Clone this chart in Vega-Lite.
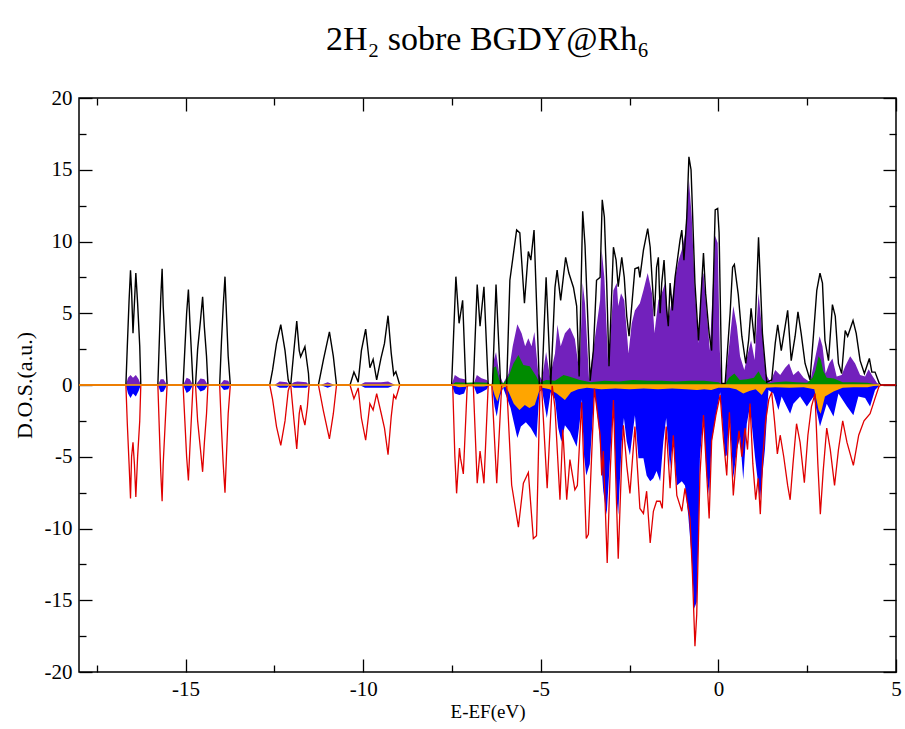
{
"$schema":"https://vega.github.io/schema/vega-lite/v6.json",
"width":817,"height":574,
"autosize":{"type":"none"},
"padding":{"left":79,"top":98,"right":9,"bottom":57},
"background":"white",
"title":{"text":"2H₂ sobre BGDY@Rh₆","font":"Liberation Serif","fontSize":34,"fontWeight":"normal","color":"black","anchor":"middle","offset":30},
"config":{"view":{"stroke":"black","strokeWidth":1.5},"axis":{"domain":false,"grid":false,"tickColor":"black","tickWidth":1.3,"labelColor":"black","labelFont":"Liberation Serif","labelFontSize":21,"titleFont":"Liberation Serif","titleFontWeight":"normal","titleColor":"black"}},
"datasets":{
"up":[{"e":-18,"v":0},{"e":-16.68,"v":0},{"e":-16.64,"v":2.7},{"e":-16.59,"v":5.9},{"e":-16.55,"v":8.0},{"e":-16.52,"v":6.6},{"e":-16.48,"v":3.6},{"e":-16.44,"v":5.7},{"e":-16.40,"v":7.8},{"e":-16.35,"v":5.7},{"e":-16.29,"v":2.7},{"e":-16.26,"v":0},
{"e":-15.78,"v":0},{"e":-15.74,"v":3.0},{"e":-15.70,"v":6.0},{"e":-15.66,"v":8.1},{"e":-15.63,"v":5.5},{"e":-15.58,"v":3.0},{"e":-15.52,"v":0},
{"e":-15.07,"v":0},{"e":-15.02,"v":2.5},{"e":-14.97,"v":5.0},{"e":-14.92,"v":6.65},{"e":-14.88,"v":4.5},{"e":-14.83,"v":2.0},{"e":-14.79,"v":0},
{"e":-14.72,"v":0},{"e":-14.66,"v":2.5},{"e":-14.58,"v":4.5},{"e":-14.52,"v":6.15},{"e":-14.47,"v":4.0},{"e":-14.41,"v":2.0},{"e":-14.37,"v":0},
{"e":-14.04,"v":0},{"e":-13.99,"v":3.0},{"e":-13.94,"v":5.5},{"e":-13.89,"v":7.55},{"e":-13.85,"v":5.0},{"e":-13.80,"v":2.0},{"e":-13.74,"v":0},
{"e":-12.63,"v":0},{"e":-12.55,"v":1.05},{"e":-12.44,"v":2.9},{"e":-12.32,"v":4.2},{"e":-12.20,"v":2.4},{"e":-12.11,"v":0.35},{"e":-12.06,"v":0},
{"e":-12.04,"v":0},{"e":-11.95,"v":2.4},{"e":-11.87,"v":4.45},{"e":-11.80,"v":2.4},{"e":-11.76,"v":1.97},{"e":-11.64,"v":2.67},{"e":-11.54,"v":0.8},{"e":-11.52,"v":0},
{"e":-11.26,"v":0},{"e":-11.12,"v":1.75},{"e":-10.95,"v":3.7},{"e":-10.84,"v":2.0},{"e":-10.75,"v":0},
{"e":-10.37,"v":0},{"e":-10.26,"v":0.9},{"e":-10.14,"v":0.2},{"e":-10.05,"v":2.4},{"e":-9.93,"v":3.9},{"e":-9.81,"v":1.2},{"e":-9.72,"v":1.79},{"e":-9.62,"v":0.35},{"e":-9.50,"v":1.86},{"e":-9.40,"v":2.9},{"e":-9.30,"v":4.83},{"e":-9.21,"v":2.2},{"e":-9.14,"v":0.7},{"e":-9.08,"v":0.93},{"e":-8.97,"v":0},
{"e":-7.51,"v":0},{"e":-7.39,"v":7.55},{"e":-7.30,"v":4.3},{"e":-7.20,"v":5.9},{"e":-7.11,"v":0},
{"e":-6.90,"v":0},{"e":-6.79,"v":7.0},{"e":-6.71,"v":4.1},{"e":-6.60,"v":6.85},{"e":-6.48,"v":0},
{"e":-6.36,"v":0},{"e":-6.26,"v":7.0},{"e":-6.13,"v":0},
{"e":-5.96,"v":0},{"e":-5.87,"v":7.3},{"e":-5.68,"v":10.8},{"e":-5.59,"v":10.6},{"e":-5.46,"v":5.7},{"e":-5.35,"v":9.3},{"e":-5.28,"v":8.7},{"e":-5.19,"v":10.8},{"e":-5.04,"v":0},
{"e":-4.97,"v":0},{"e":-4.85,"v":7.5},{"e":-4.72,"v":0},
{"e":-4.60,"v":6.8},{"e":-4.54,"v":8.0},{"e":-4.44,"v":5.9},{"e":-4.30,"v":8.9},{"e":-4.21,"v":7.8},{"e":-4.08,"v":6.8},{"e":-3.99,"v":5.5},{"e":-3.92,"v":0.6},{"e":-3.82,"v":12.1},{"e":-3.755,"v":9.75},{"e":-3.61,"v":0.3},{"e":-3.52,"v":2.4},{"e":-3.43,"v":7.3},{"e":-3.33,"v":7.5},{"e":-3.27,"v":12.9},{"e":-3.21,"v":11.7},{"e":-3.145,"v":7.1},{"e":-3.08,"v":1.3},{"e":-2.955,"v":9.6},{"e":-2.88,"v":8.7},{"e":-2.82,"v":6.85},{"e":-2.72,"v":8.9},{"e":-2.65,"v":7.5},{"e":-2.58,"v":4.8},{"e":-2.515,"v":3.4},{"e":-2.44,"v":5.5},{"e":-2.35,"v":8.1},{"e":-2.25,"v":8.2},{"e":-2.21,"v":7.5},{"e":-2.11,"v":9.4},{"e":-1.99,"v":10.9},{"e":-1.92,"v":9.6},{"e":-1.86,"v":7.1},{"e":-1.80,"v":4.8},{"e":-1.74,"v":8.2},{"e":-1.69,"v":8.9},{"e":-1.64,"v":5.0},{"e":-1.595,"v":7.1},{"e":-1.53,"v":8.7},{"e":-1.455,"v":5.2},{"e":-1.41,"v":4.1},{"e":-1.36,"v":7.1},{"e":-1.295,"v":5.2},{"e":-1.22,"v":7.5},{"e":-1.155,"v":8.7},{"e":-1.08,"v":10.1},{"e":-1.03,"v":10.8},{"e":-0.97,"v":8.7},{"e":-0.89,"v":11.7},{"e":-0.83,"v":15.9},{"e":-0.77,"v":15.0},{"e":-0.74,"v":12.9},{"e":-0.66,"v":7.1},{"e":-0.56,"v":3.1},{"e":-0.49,"v":6.2},{"e":-0.42,"v":9.2},{"e":-0.36,"v":6.4},{"e":-0.26,"v":3.6},{"e":-0.19,"v":2.4},{"e":-0.09,"v":12.2},{"e":-0.02,"v":12.3},{"e":0.02,"v":10.6},{"e":0.095,"v":0.1},{"e":0.19,"v":0.1},{"e":0.33,"v":5.0},{"e":0.40,"v":8.2},{"e":0.45,"v":8.4},{"e":0.56,"v":6.3},{"e":0.66,"v":3.4},{"e":0.77,"v":1.5},{"e":0.85,"v":3.1},{"e":0.92,"v":5.35},{"e":1.02,"v":2.9},{"e":1.13,"v":10.3},{"e":1.24,"v":3.6},{"e":1.36,"v":0.2},{"e":1.50,"v":0.35},{"e":1.60,"v":2.9},{"e":1.67,"v":4.2},{"e":1.77,"v":2.4},{"e":1.88,"v":4.1},{"e":1.95,"v":5.2},{"e":2.05,"v":1.7},{"e":2.16,"v":3.4},{"e":2.24,"v":5.1},{"e":2.33,"v":3.6},{"e":2.44,"v":1.5},{"e":2.58,"v":0.35},{"e":2.68,"v":3.6},{"e":2.77,"v":6.6},{"e":2.86,"v":7.8},{"e":2.93,"v":7.1},{"e":3.0,"v":3.1},{"e":3.10,"v":1.7},{"e":3.21,"v":5.6},{"e":3.29,"v":4.8},{"e":3.38,"v":1.5},{"e":3.47,"v":0.8},{"e":3.57,"v":3.8},{"e":3.64,"v":3.4},{"e":3.79,"v":4.5},{"e":3.88,"v":3.6},{"e":3.99,"v":1.7},{"e":4.11,"v":0.8},{"e":4.25,"v":1.85},{"e":4.32,"v":0.9},{"e":4.41,"v":0.9},{"e":4.53,"v":0.1},{"e":4.58,"v":0},{"e":5,"v":0}],
"down":[{"e":-18,"v":0},{"e":-16.68,"v":0},{"e":-16.64,"v":-2.7},{"e":-16.59,"v":-5.5},{"e":-16.55,"v":-7.9},{"e":-16.52,"v":-5.0},{"e":-16.48,"v":-4.0},{"e":-16.44,"v":-5.5},{"e":-16.40,"v":-7.8},{"e":-16.35,"v":-5.0},{"e":-16.29,"v":-2.5},{"e":-16.26,"v":0},
{"e":-15.78,"v":0},{"e":-15.74,"v":-3.0},{"e":-15.70,"v":-6.0},{"e":-15.66,"v":-8.1},{"e":-15.63,"v":-5.5},{"e":-15.58,"v":-3.0},{"e":-15.52,"v":0},
{"e":-15.07,"v":0},{"e":-15.02,"v":-2.5},{"e":-14.97,"v":-5.0},{"e":-14.92,"v":-6.65},{"e":-14.88,"v":-4.5},{"e":-14.83,"v":-2.0},{"e":-14.79,"v":0},
{"e":-14.72,"v":0},{"e":-14.66,"v":-2.5},{"e":-14.58,"v":-4.5},{"e":-14.52,"v":-6.05},{"e":-14.47,"v":-4.0},{"e":-14.41,"v":-2.0},{"e":-14.37,"v":0},
{"e":-14.04,"v":0},{"e":-13.99,"v":-3.0},{"e":-13.94,"v":-5.5},{"e":-13.89,"v":-7.5},{"e":-13.85,"v":-5.0},{"e":-13.80,"v":-2.0},{"e":-13.74,"v":0},
{"e":-12.63,"v":0},{"e":-12.55,"v":-1.0},{"e":-12.44,"v":-2.9},{"e":-12.32,"v":-4.2},{"e":-12.20,"v":-2.5},{"e":-12.11,"v":-0.4},{"e":-12.06,"v":0},
{"e":-12.04,"v":0},{"e":-11.95,"v":-2.4},{"e":-11.87,"v":-4.45},{"e":-11.80,"v":-2.0},{"e":-11.76,"v":-1.4},{"e":-11.70,"v":-2.2},{"e":-11.64,"v":-2.8},{"e":-11.57,"v":-1.5},{"e":-11.52,"v":0},
{"e":-11.26,"v":0},{"e":-11.12,"v":-1.8},{"e":-10.95,"v":-3.75},{"e":-10.84,"v":-2.0},{"e":-10.75,"v":0},
{"e":-10.37,"v":0},{"e":-10.26,"v":-0.95},{"e":-10.14,"v":-0.2},{"e":-10.05,"v":-2.3},{"e":-9.93,"v":-3.85},{"e":-9.81,"v":-1.3},{"e":-9.72,"v":-1.75},{"e":-9.62,"v":-0.6},{"e":-9.50,"v":-1.9},{"e":-9.40,"v":-3.0},{"e":-9.30,"v":-4.85},{"e":-9.21,"v":-2.2},{"e":-9.14,"v":-0.7},{"e":-9.08,"v":-0.95},{"e":-8.97,"v":0},
{"e":-7.48,"v":0},{"e":-7.42,"v":-4.9},{"e":-7.37,"v":-7.55},{"e":-7.29,"v":-4.4},{"e":-7.26,"v":-5.1},{"e":-7.18,"v":-6.2},{"e":-7.07,"v":0},
{"e":-6.90,"v":0},{"e":-6.79,"v":-6.85},{"e":-6.71,"v":-4.6},{"e":-6.60,"v":-6.85},{"e":-6.48,"v":0},
{"e":-6.38,"v":0},{"e":-6.24,"v":-6.85},{"e":-6.10,"v":0},
{"e":-5.96,"v":0},{"e":-5.82,"v":-6.97},{"e":-5.63,"v":-9.9},{"e":-5.49,"v":-6.85},{"e":-5.35,"v":-6.1},{"e":-5.21,"v":-10.7},{"e":-5.12,"v":-10.5},{"e":-5.02,"v":0},
{"e":-4.98,"v":0},{"e":-4.82,"v":-7.2},{"e":-4.68,"v":0},
{"e":-4.60,"v":-1.6},{"e":-4.46,"v":-8.0},{"e":-4.38,"v":-3.1},{"e":-4.27,"v":-8.0},{"e":-4.18,"v":-5.2},{"e":-4.04,"v":-7.3},{"e":-3.97,"v":-7.0},{"e":-3.85,"v":-1.2},{"e":-3.72,"v":-10.7},{"e":-3.66,"v":-10.4},{"e":-3.49,"v":-0.25},{"e":-3.33,"v":-3.5},{"e":-3.285,"v":-6.3},{"e":-3.24,"v":-4.6},{"e":-3.13,"v":-12.4},{"e":-3.05,"v":-6.3},{"e":-2.955,"v":-1.05},{"e":-2.82,"v":-12.1},{"e":-2.72,"v":-5.1},{"e":-2.675,"v":-2.8},{"e":-2.58,"v":-5.6},{"e":-2.49,"v":-7.55},{"e":-2.35,"v":-2.9},{"e":-2.21,"v":-8.6},{"e":-2.11,"v":-8.95},{"e":-2.02,"v":-7.4},{"e":-1.92,"v":-11.0},{"e":-1.83,"v":-8.8},{"e":-1.74,"v":-8.1},{"e":-1.64,"v":-8.1},{"e":-1.58,"v":-8.6},{"e":-1.47,"v":-2.9},{"e":-1.36,"v":-7.2},{"e":-1.27,"v":-3.5},{"e":-1.17,"v":-7.7},{"e":-1.03,"v":-8.8},{"e":-0.94,"v":-7.2},{"e":-0.80,"v":-9.3},{"e":-0.73,"v":-13.2},{"e":-0.66,"v":-18.2},{"e":-0.61,"v":-16.0},{"e":-0.52,"v":-6.3},{"e":-0.42,"v":-2.1},{"e":-0.26,"v":-9.3},{"e":-0.19,"v":-3.9},{"e":-0.07,"v":-2.1},{"e":0.05,"v":-0.7},{"e":0.14,"v":-3.7},{"e":0.235,"v":-6.3},{"e":0.31,"v":-1.9},{"e":0.42,"v":-7.7},{"e":0.52,"v":-4.5},{"e":0.58,"v":-3.2},{"e":0.66,"v":-5.0},{"e":0.75,"v":-3.0},{"e":0.82,"v":-4.5},{"e":0.89,"v":-1.3},{"e":0.97,"v":-5.5},{"e":1.05,"v":-8.0},{"e":1.12,"v":-6.5},{"e":1.18,"v":-9.0},{"e":1.25,"v":-5.0},{"e":1.33,"v":-2.5},{"e":1.42,"v":-1.0},{"e":1.50,"v":-0.5},{"e":1.58,"v":-2.5},{"e":1.66,"v":-4.8},{"e":1.74,"v":-3.5},{"e":1.84,"v":-5.0},{"e":1.95,"v":-7.0},{"e":2.02,"v":-8.0},{"e":2.1,"v":-5.5},{"e":2.2,"v":-2.7},{"e":2.3,"v":-4.0},{"e":2.42,"v":-6.8},{"e":2.52,"v":-3.5},{"e":2.62,"v":-1.5},{"e":2.72,"v":-0.6},{"e":2.8,"v":-5.5},{"e":2.87,"v":-9.0},{"e":2.95,"v":-6.0},{"e":3.05,"v":-3.0},{"e":3.15,"v":-4.5},{"e":3.27,"v":-7.0},{"e":3.38,"v":-4.5},{"e":3.5,"v":-2.5},{"e":3.62,"v":-4.0},{"e":3.8,"v":-5.6},{"e":3.95,"v":-3.5},{"e":4.1,"v":-2.5},{"e":4.27,"v":-2.0},{"e":4.4,"v":-1.0},{"e":4.52,"v":-0.1},{"e":4.58,"v":0},{"e":5,"v":0}],
"pup":[{"e":-18,"v":0},{"e":-16.68,"v":0},{"e":-16.62,"v":0.5},{"e":-16.55,"v":0.7},{"e":-16.48,"v":0.5},{"e":-16.40,"v":0.7},{"e":-16.32,"v":0.4},{"e":-16.26,"v":0},{"e":-15.78,"v":0},{"e":-15.70,"v":0.4},{"e":-15.62,"v":0.4},{"e":-15.52,"v":0},{"e":-15.07,"v":0},{"e":-14.97,"v":0.5},{"e":-14.88,"v":0.4},{"e":-14.79,"v":0},{"e":-14.72,"v":0},{"e":-14.58,"v":0.45},{"e":-14.47,"v":0.4},{"e":-14.37,"v":0},{"e":-14.04,"v":0},{"e":-13.92,"v":0.35},{"e":-13.80,"v":0.3},{"e":-13.74,"v":0},{"e":-12.5,"v":0},{"e":-12.35,"v":0.25},{"e":-12.15,"v":0.2},{"e":-12.06,"v":0},{"e":-11.95,"v":0.2},{"e":-11.85,"v":0.25},{"e":-11.6,"v":0.2},{"e":-11.52,"v":0},{"e":-11.2,"v":0},{"e":-11.0,"v":0.2},{"e":-10.8,"v":0},{"e":-10.1,"v":0},{"e":-9.95,"v":0.2},{"e":-9.7,"v":0.2},{"e":-9.5,"v":0.2},{"e":-9.3,"v":0.25},{"e":-9.1,"v":0},
{"e":-7.51,"v":0},{"e":-7.42,"v":0.7},{"e":-7.28,"v":0.47},{"e":-7.14,"v":0.4},{"e":-7.07,"v":0},{"e":-6.90,"v":0},{"e":-6.80,"v":0.7},{"e":-6.67,"v":0.47},{"e":-6.52,"v":0.35},{"e":-6.45,"v":0},{"e":-6.38,"v":0},{"e":-6.32,"v":1.74},{"e":-6.26,"v":2.3},{"e":-6.17,"v":0.81},{"e":-6.06,"v":0.1},{"e":-5.91,"v":0.81},{"e":-5.79,"v":2.7},{"e":-5.66,"v":4.23},{"e":-5.54,"v":3.6},{"e":-5.44,"v":2.7},{"e":-5.35,"v":3.25},{"e":-5.26,"v":2.7},{"e":-5.18,"v":3.7},{"e":-5.07,"v":0.8},{"e":-4.97,"v":0.35},{"e":-4.85,"v":2.3},{"e":-4.74,"v":0.58},{"e":-4.60,"v":2.2},{"e":-4.53,"v":4.2},{"e":-4.44,"v":2.7},{"e":-4.32,"v":3.6},{"e":-4.18,"v":4.0},{"e":-4.04,"v":3.2},{"e":-3.91,"v":0.8},{"e":-3.82,"v":7.1},{"e":-3.755,"v":5.7},{"e":-3.64,"v":0.35},{"e":-3.47,"v":3.4},{"e":-3.33,"v":5.9},{"e":-3.285,"v":9.4},{"e":-3.21,"v":7.5},{"e":-3.10,"v":1.3},{"e":-2.955,"v":6.6},{"e":-2.86,"v":7.1},{"e":-2.82,"v":5.5},{"e":-2.74,"v":6.4},{"e":-2.65,"v":5.9},{"e":-2.53,"v":2.2},{"e":-2.44,"v":4.3},{"e":-2.35,"v":5.2},{"e":-2.21,"v":5.7},{"e":-2.11,"v":6.6},{"e":-1.99,"v":7.8},{"e":-1.87,"v":6.4},{"e":-1.80,"v":3.6},{"e":-1.69,"v":5.9},{"e":-1.595,"v":6.4},{"e":-1.50,"v":7.1},{"e":-1.41,"v":4.5},{"e":-1.295,"v":6.1},{"e":-1.22,"v":7.5},{"e":-1.12,"v":8.7},{"e":-1.03,"v":9.4},{"e":-0.93,"v":10.6},{"e":-0.83,"v":14.3},{"e":-0.75,"v":11.7},{"e":-0.66,"v":6.6},{"e":-0.56,"v":2.9},{"e":-0.47,"v":7.5},{"e":-0.42,"v":7.8},{"e":-0.33,"v":5.2},{"e":-0.24,"v":2.4},{"e":-0.09,"v":10.4},{"e":-0.02,"v":9.9},{"e":0.04,"v":2.4},{"e":0.095,"v":0.1},{"e":0.19,"v":0.1},{"e":0.33,"v":3.4},{"e":0.42,"v":5.5},{"e":0.52,"v":4.1},{"e":0.61,"v":2.0},{"e":0.73,"v":1.05},{"e":0.83,"v":2.2},{"e":0.92,"v":3.1},{"e":1.02,"v":1.75},{"e":1.13,"v":6.4},{"e":1.22,"v":4.1},{"e":1.33,"v":0.8},{"e":1.46,"v":0.2},{"e":1.60,"v":1.05},{"e":1.74,"v":0.7},{"e":1.88,"v":1.2},{"e":1.99,"v":1.5},{"e":2.11,"v":0.7},{"e":2.25,"v":1.0},{"e":2.40,"v":0.5},{"e":2.58,"v":0.2},{"e":2.71,"v":1.7},{"e":2.85,"v":3.4},{"e":2.93,"v":2.7},{"e":3.02,"v":0.8},{"e":3.12,"v":1.5},{"e":3.21,"v":1.85},{"e":3.33,"v":0.6},{"e":3.47,"v":0.7},{"e":3.57,"v":1.3},{"e":3.71,"v":2.0},{"e":3.85,"v":1.5},{"e":3.99,"v":0.7},{"e":4.13,"v":0.6},{"e":4.23,"v":1.1},{"e":4.32,"v":0.7},{"e":4.46,"v":0.15},{"e":4.55,"v":0}],
"gup":[{"e":-7.51,"v":0},{"e":-7.4,"v":0.2},{"e":-7.1,"v":0.15},{"e":-6.8,"v":0.2},{"e":-6.5,"v":0.15},{"e":-6.38,"v":0},{"e":-6.33,"v":1.2},{"e":-6.26,"v":1.3},{"e":-6.17,"v":0.35},{"e":-6.06,"v":0.1},{"e":-5.91,"v":0.58},{"e":-5.77,"v":1.5},{"e":-5.63,"v":2.09},{"e":-5.49,"v":1.4},{"e":-5.31,"v":1.3},{"e":-5.12,"v":0.58},{"e":-5.04,"v":0.15},{"e":-4.85,"v":0.35},{"e":-4.6,"v":0.3},{"e":-4.36,"v":0.7},{"e":-4.18,"v":0.58},{"e":-3.9,"v":0.35},{"e":-3.6,"v":0.2},{"e":-3.2,"v":0.3},{"e":-2.8,"v":0.25},{"e":-2.4,"v":0.35},{"e":-2.0,"v":0.3},{"e":-1.6,"v":0.3},{"e":-1.2,"v":0.25},{"e":-0.8,"v":0.3},{"e":-0.4,"v":0.3},{"e":0.0,"v":0.2},{"e":0.1,"v":0.05},{"e":0.2,"v":0.1},{"e":0.3,"v":0.5},{"e":0.45,"v":0.8},{"e":0.6,"v":0.35},{"e":0.8,"v":0.4},{"e":1.0,"v":0.5},{"e":1.13,"v":0.95},{"e":1.25,"v":0.4},{"e":1.4,"v":0.1},{"e":1.6,"v":0.2},{"e":1.9,"v":0.25},{"e":2.2,"v":0.2},{"e":2.5,"v":0.15},{"e":2.65,"v":0.5},{"e":2.73,"v":1.0},{"e":2.82,"v":2.0},{"e":2.88,"v":1.8},{"e":2.95,"v":1.0},{"e":3.05,"v":0.5},{"e":3.25,"v":0.45},{"e":3.5,"v":0.2},{"e":3.8,"v":0.2},{"e":4.2,"v":0.15},{"e":4.5,"v":0}],
"bdn":[{"e":-18,"v":0},{"e":-16.68,"v":0},{"e":-16.62,"v":-0.6},{"e":-16.55,"v":-0.9},{"e":-16.48,"v":-0.6},{"e":-16.40,"v":-0.8},{"e":-16.32,"v":-0.4},{"e":-16.26,"v":0},{"e":-15.78,"v":0},{"e":-15.70,"v":-0.5},{"e":-15.62,"v":-0.45},{"e":-15.52,"v":0},{"e":-15.07,"v":0},{"e":-14.97,"v":-0.55},{"e":-14.88,"v":-0.4},{"e":-14.79,"v":0},{"e":-14.72,"v":0},{"e":-14.58,"v":-0.45},{"e":-14.47,"v":-0.35},{"e":-14.37,"v":0},{"e":-14.04,"v":0},{"e":-13.92,"v":-0.35},{"e":-13.80,"v":-0.3},{"e":-13.74,"v":0},{"e":-12.5,"v":0},{"e":-12.35,"v":-0.2},{"e":-12.15,"v":-0.2},{"e":-12.06,"v":0},{"e":-11.95,"v":-0.2},{"e":-11.85,"v":-0.2},{"e":-11.6,"v":-0.2},{"e":-11.52,"v":0},{"e":-11.2,"v":0},{"e":-11.0,"v":-0.2},{"e":-10.8,"v":0},{"e":-10.1,"v":0},{"e":-9.95,"v":-0.2},{"e":-9.7,"v":-0.2},{"e":-9.5,"v":-0.2},{"e":-9.3,"v":-0.2},{"e":-9.1,"v":0},
{"e":-7.51,"v":0},{"e":-7.42,"v":-0.6},{"e":-7.29,"v":-0.7},{"e":-7.16,"v":-0.6},{"e":-7.07,"v":0},{"e":-6.90,"v":0},{"e":-6.80,"v":-0.65},{"e":-6.67,"v":-0.5},{"e":-6.52,"v":-0.3},{"e":-6.45,"v":0},{"e":-6.38,"v":0},{"e":-6.30,"v":-1.5},{"e":-6.24,"v":-2.2},{"e":-6.15,"v":-0.8},{"e":-6.06,"v":-0.2},{"e":-5.85,"v":-1.6},{"e":-5.66,"v":-3.7},{"e":-5.56,"v":-2.9},{"e":-5.42,"v":-2.6},{"e":-5.28,"v":-3.0},{"e":-5.12,"v":-3.7},{"e":-5.04,"v":-0.5},{"e":-4.97,"v":-0.3},{"e":-4.83,"v":-2.3},{"e":-4.72,"v":-0.5},{"e":-4.60,"v":-1.0},{"e":-4.51,"v":-3.0},{"e":-4.42,"v":-3.95},{"e":-4.32,"v":-2.8},{"e":-4.18,"v":-3.25},{"e":-3.99,"v":-4.3},{"e":-3.90,"v":-2.5},{"e":-3.85,"v":-1.0},{"e":-3.78,"v":-5.0},{"e":-3.72,"v":-6.3},{"e":-3.62,"v":-5.5},{"e":-3.49,"v":-0.35},{"e":-3.37,"v":-2.8},{"e":-3.24,"v":-7.4},{"e":-3.145,"v":-9.05},{"e":-3.05,"v":-5.1},{"e":-2.955,"v":-1.2},{"e":-2.86,"v":-8.1},{"e":-2.82,"v":-9.05},{"e":-2.72,"v":-3.95},{"e":-2.66,"v":-2.3},{"e":-2.58,"v":-3.95},{"e":-2.49,"v":-4.9},{"e":-2.35,"v":-2.1},{"e":-2.25,"v":-5.1},{"e":-2.11,"v":-5.1},{"e":-2.02,"v":-6.3},{"e":-1.92,"v":-6.7},{"e":-1.83,"v":-6.5},{"e":-1.74,"v":-6.0},{"e":-1.64,"v":-6.7},{"e":-1.55,"v":-3.95},{"e":-1.47,"v":-2.3},{"e":-1.36,"v":-5.8},{"e":-1.27,"v":-3.7},{"e":-1.17,"v":-7.0},{"e":-1.03,"v":-6.7},{"e":-0.94,"v":-7.0},{"e":-0.85,"v":-9.05},{"e":-0.75,"v":-12.1},{"e":-0.68,"v":-15.6},{"e":-0.61,"v":-15.1},{"e":-0.56,"v":-10.45},{"e":-0.52,"v":-5.1},{"e":-0.42,"v":-2.1},{"e":-0.33,"v":-6.3},{"e":-0.26,"v":-7.7},{"e":-0.19,"v":-3.95},{"e":-0.07,"v":-2.1},{"e":0.05,"v":-0.5},{"e":0.14,"v":-3.5},{"e":0.19,"v":-5.0},{"e":0.235,"v":-4.9},{"e":0.31,"v":-1.9},{"e":0.42,"v":-6.5},{"e":0.52,"v":-4.5},{"e":0.61,"v":-3.6},{"e":0.70,"v":-6.6},{"e":0.80,"v":-2.7},{"e":0.89,"v":-1.5},{"e":1.03,"v":-5.0},{"e":1.17,"v":-8.0},{"e":1.31,"v":-4.5},{"e":1.41,"v":-0.35},{"e":1.55,"v":-0.6},{"e":1.69,"v":-1.75},{"e":1.78,"v":-0.8},{"e":2.02,"v":-2.0},{"e":2.11,"v":-1.3},{"e":2.3,"v":-0.8},{"e":2.49,"v":-1.5},{"e":2.68,"v":-0.8},{"e":2.86,"v":-2.9},{"e":3.05,"v":-1.3},{"e":3.24,"v":-2.2},{"e":3.38,"v":-0.6},{"e":3.62,"v":-1.5},{"e":3.8,"v":-2.1},{"e":3.94,"v":-0.8},{"e":4.13,"v":-0.9},{"e":4.27,"v":-1.5},{"e":4.41,"v":-0.35},{"e":4.55,"v":0}],
"odn":[{"e":-7.51,"v":0},{"e":-7.3,"v":-0.15},{"e":-7.0,"v":-0.1},{"e":-6.6,"v":-0.1},{"e":-6.38,"v":0},{"e":-6.30,"v":-0.7},{"e":-6.22,"v":-1.15},{"e":-6.12,"v":-0.3},{"e":-6.0,"v":-0.1},{"e":-5.91,"v":-0.45},{"e":-5.76,"v":-1.3},{"e":-5.60,"v":-1.75},{"e":-5.45,"v":-1.4},{"e":-5.32,"v":-1.6},{"e":-5.17,"v":-1.4},{"e":-5.05,"v":-0.45},{"e":-4.95,"v":-0.2},{"e":-4.75,"v":-0.3},{"e":-4.55,"v":-0.6},{"e":-4.32,"v":-1.05},{"e":-4.15,"v":-0.5},{"e":-3.95,"v":-0.3},{"e":-3.7,"v":-0.2},{"e":-3.3,"v":-0.3},{"e":-2.9,"v":-0.25},{"e":-2.5,"v":-0.3},{"e":-2.1,"v":-0.25},{"e":-1.7,"v":-0.3},{"e":-1.3,"v":-0.25},{"e":-0.9,"v":-0.3},{"e":-0.6,"v":-0.35},{"e":-0.4,"v":-0.3},{"e":-0.2,"v":-0.35},{"e":0.0,"v":-0.2},{"e":0.3,"v":-0.2},{"e":0.5,"v":-0.3},{"e":0.70,"v":-0.6},{"e":0.89,"v":-0.4},{"e":1.05,"v":-0.3},{"e":1.22,"v":-0.7},{"e":1.35,"v":-0.2},{"e":1.6,"v":-0.15},{"e":2.0,"v":-0.2},{"e":2.4,"v":-0.15},{"e":2.7,"v":-0.3},{"e":2.82,"v":-1.75},{"e":2.88,"v":-2.0},{"e":3.0,"v":-0.8},{"e":3.24,"v":-0.45},{"e":3.5,"v":-0.2},{"e":3.8,"v":-0.15},{"e":4.2,"v":-0.15},{"e":4.5,"v":0}],
"hz":[{"e":-18,"v":0},{"e":4.55,"v":0}]
},
"layer":[
{"data":{"name":"pup"},"mark":{"type":"area","color":"#7221BC","interpolate":"linear"},
 "encoding":{"x":{"field":"e","type":"quantitative","scale":{"domain":[-18,5],"nice":false,"zero":false},
   "axis":{"orient":"bottom","title":"E-EF(eV)","titleFont":"Liberation Serif","titleFontSize":19,"titleFontWeight":"normal","titlePadding":3,"labelFont":"Liberation Serif","labelFontSize":21,"values":[-17.5,-15,-12.5,-10,-7.5,-5,-2.5,0,2.5,5],"labelExpr":"datum.value % 5 === 0 ? replace(format(datum.value,'d'),'−','-') : ''","tickSize":{"condition":{"test":"datum.value % 5 === 0","value":-13},"value":-7},"labelPadding":19,"labelFlush":false}},
  "y":{"field":"v","type":"quantitative","scale":{"domain":[-20,20],"nice":false},
   "axis":{"orient":"left","title":"D.O.S.(a.u.)","titleFont":"Liberation Serif","titleFontSize":22,"titleFontWeight":"normal","titlePadding":8,"labelFont":"Liberation Serif","labelFontSize":21,"values":[-20,-17.5,-15,-12.5,-10,-7.5,-5,-2.5,0,2.5,5,7.5,10,12.5,15,17.5,20],"labelExpr":"datum.value % 5 === 0 ? replace(format(datum.value,'d'),'−','-') : ''","tickSize":{"condition":{"test":"datum.value % 5 === 0","value":-13},"value":-7},"labelPadding":20,"labelFlush":false}}}},
{"data":{"name":"gup"},"mark":{"type":"area","color":"#008B00"},"encoding":{"x":{"field":"e","type":"quantitative","axis":null},"y":{"field":"v","type":"quantitative","axis":null}}},
{"data":{"name":"up"},"mark":{"type":"line","color":"black","strokeWidth":1.4},"encoding":{"x":{"field":"e","type":"quantitative","axis":null},"y":{"field":"v","type":"quantitative","axis":null}}},
{"data":{"name":"bdn"},"mark":{"type":"area","color":"#0000FF"},"encoding":{"x":{"field":"e","type":"quantitative","axis":null},"y":{"field":"v","type":"quantitative","axis":null}}},
{"data":{"name":"odn"},"mark":{"type":"area","color":"#FFA500"},"encoding":{"x":{"field":"e","type":"quantitative","axis":null},"y":{"field":"v","type":"quantitative","axis":null}}},
{"data":{"name":"down"},"mark":{"type":"line","color":"#E00000","strokeWidth":1.3},"encoding":{"x":{"field":"e","type":"quantitative","axis":null},"y":{"field":"v","type":"quantitative","axis":null}}},
{"data":{"name":"hz"},"mark":{"type":"line","color":"#FFA500","strokeWidth":1.5},
 "encoding":{"x":{"field":"e","type":"quantitative",
   "axis":{"orient":"top","title":null,"labels":false,"values":[-17.5,-15,-12.5,-10,-7.5,-5,-2.5,0,2.5,5],"tickSize":{"condition":{"test":"datum.value % 5 === 0","value":-13},"value":-7}}},
  "y":{"field":"v","type":"quantitative",
   "axis":{"orient":"right","title":null,"labels":false,"values":[-20,-17.5,-15,-12.5,-10,-7.5,-5,-2.5,0,2.5,5,7.5,10,12.5,15,17.5,20],"tickSize":{"condition":{"test":"datum.value % 5 === 0","value":-13},"value":-7}}}}},
{"mark":{"type":"rule","color":"black","strokeWidth":1.5,"strokeDash":[6,4]},"encoding":{"x":{"datum":0,"type":"quantitative","axis":null}}}
],
"resolve":{"axis":{"x":"independent","y":"independent"}}
}
